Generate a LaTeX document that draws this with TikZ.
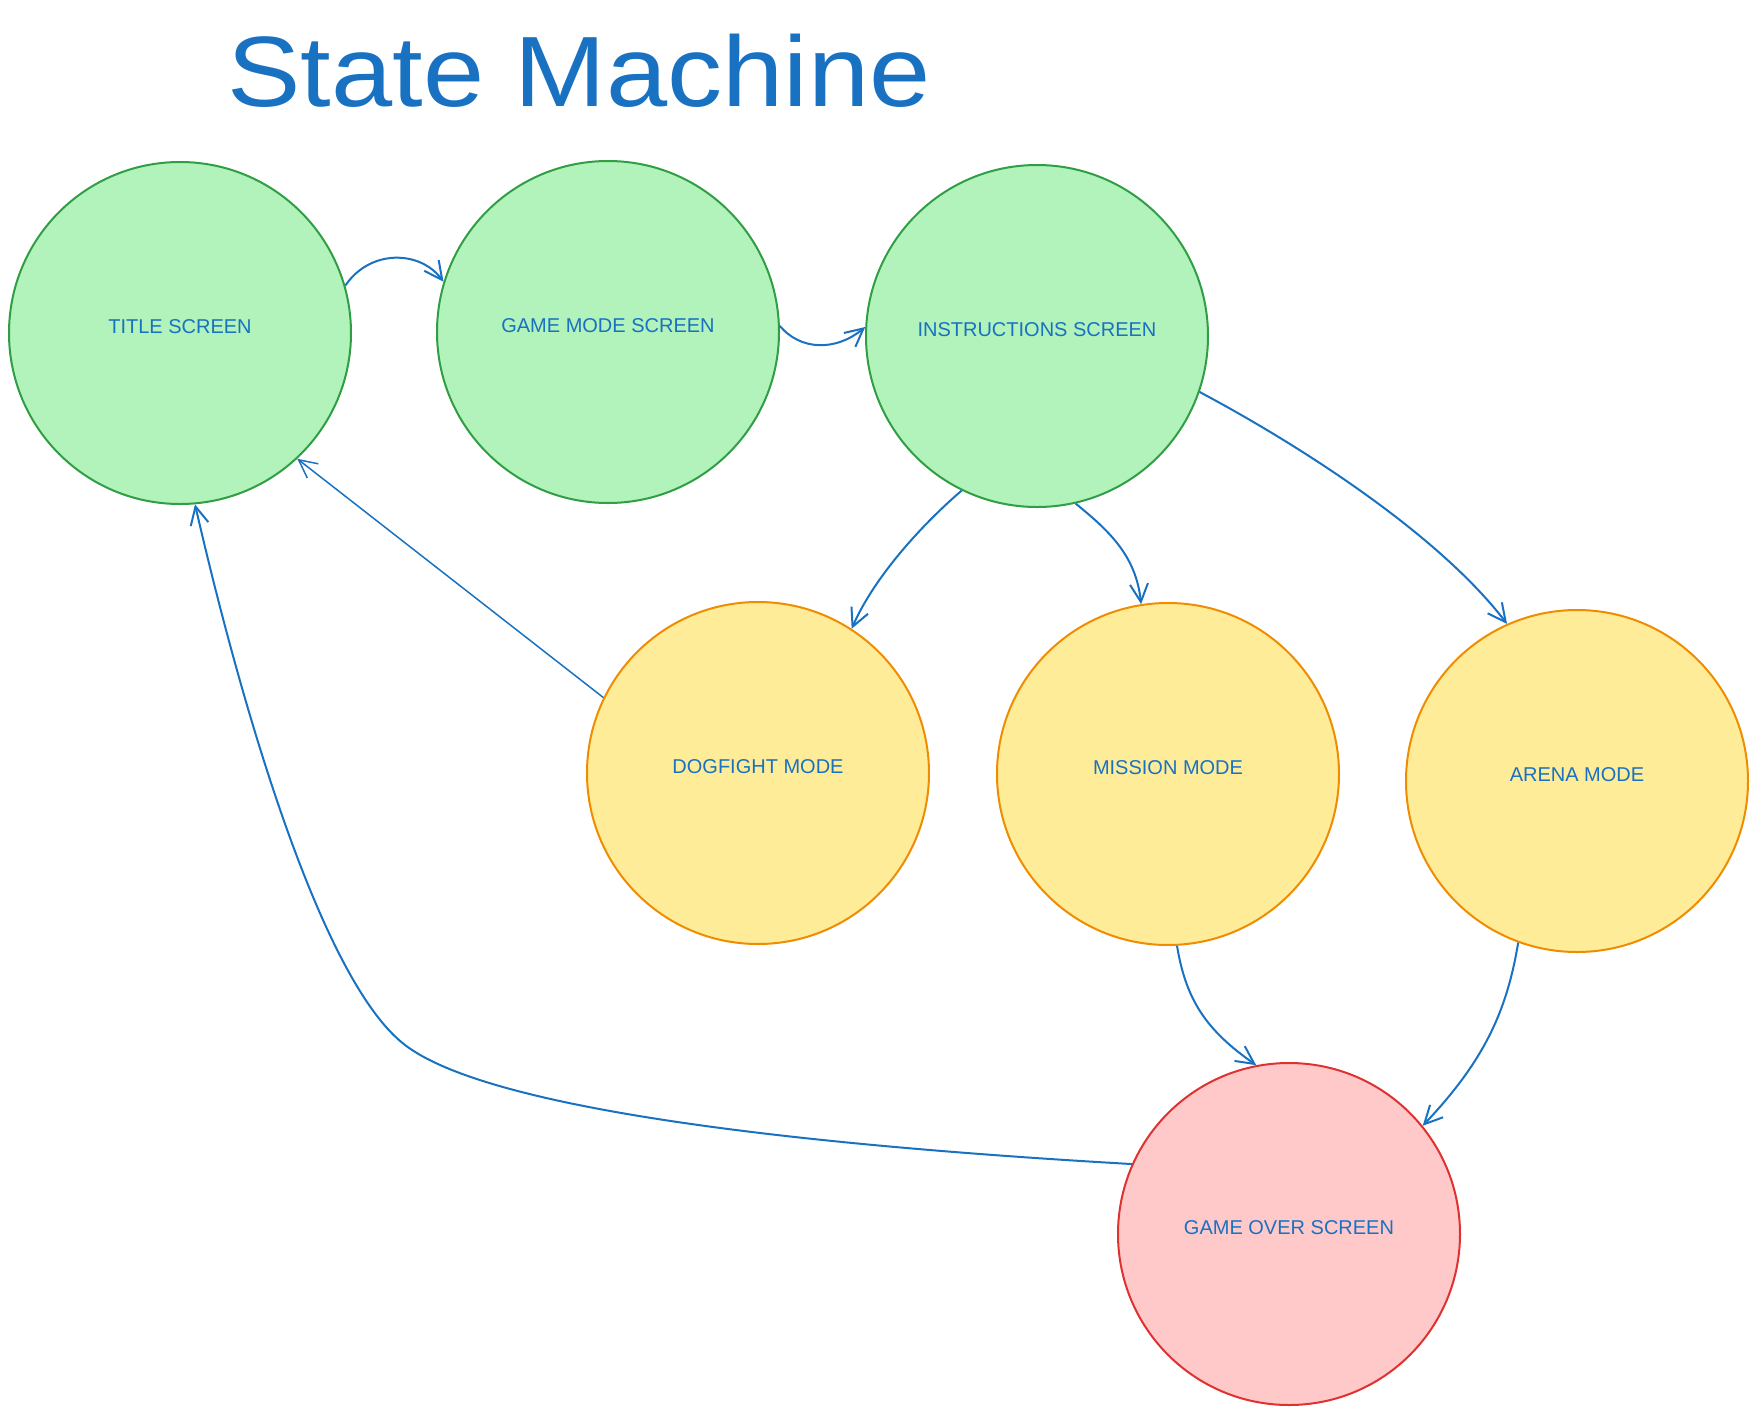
\documentclass[tikz,border=0pt]{standalone}
\usepackage{fontspec}
\setmainfont{Liberation Sans}
\usetikzlibrary{arrows.meta}
\definecolor{inkblue}{HTML}{1971C2}
\definecolor{screenfill}{HTML}{B2F2BB}
\definecolor{screenline}{HTML}{2F9E44}
\definecolor{modefill}{HTML}{FFEC99}
\definecolor{modeline}{HTML}{F08C00}
\definecolor{overfill}{HTML}{FFC9C9}
\definecolor{overline}{HTML}{E03131}
\begin{document}
\begin{tikzpicture}[x=0.5pt,y=-0.5pt,
  state/.style={circle,minimum size=171pt,inner sep=0pt,line width=1pt,
    text depth=6pt,text=inkblue,font=\fontsize{10}{12}\selectfont},
  screen/.style={state,draw=screenline,fill=screenfill},
  mode/.style={state,draw=modeline,fill=modefill},
  over/.style={state,draw=overline,fill=overfill},
  trans/.style={draw=inkblue,line width=1pt,
    -{Straight Barb[length=9pt,width=9pt]}}]
\useasboundingbox (0,0) rectangle (1758,1415);
% Heading
\node[anchor=base,text=inkblue,font=\fontsize{50}{60}\selectfont] (heading) at (579,106) {\scalebox{1.1}[1]{State Machine}};
% Screens
\node[screen] (title) at (180,333) {TITLE SCREEN};
\node[screen] (gamemode) at (608,332) {GAME MODE SCREEN};
\node[screen] (instr) at (1037,336) {INSTRUCTIONS SCREEN};
% Game modes
\node[mode] (dogfight) at (758,773) {DOGFIGHT MODE};
\node[mode] (mission) at (1168,774) {MISSION MODE};
\node[mode] (arena) at (1577,781) {ARENA MODE};
% End state
\node[over] (gameover) at (1289,1234) {GAME OVER SCREEN};
% Transitions
\draw[trans] (title.16) .. controls (370,249) and (420,250) .. (gamemode.163);
\draw[trans] (gamemode.2) .. controls (800,350) and (835,352) .. (instr.177);
\draw[trans] (instr.244) .. controls (925,522) and (875,575) .. (dogfight.57);
\draw[trans] (instr.283) .. controls (1108,530) and (1136,555) .. (mission.99);
\draw[trans] (instr.-19) .. controls (1290,440) and (1435,530) .. (arena.114);
\draw[trans,line width=0.75pt] (dogfight.154) -- (title.-47);
\draw[trans] (mission.273) .. controls (1186,1000) and (1206,1030) .. (gameover.101);
\draw[trans] (arena.250) .. controls (1507,1010) and (1485,1060) .. (gameover.39);
\draw[trans] (gameover.156) .. controls (800,1145) and (490,1110) .. (405,1045)
  .. controls (320,980) and (240,700) .. (title.275);
\end{tikzpicture}
\end{document}
